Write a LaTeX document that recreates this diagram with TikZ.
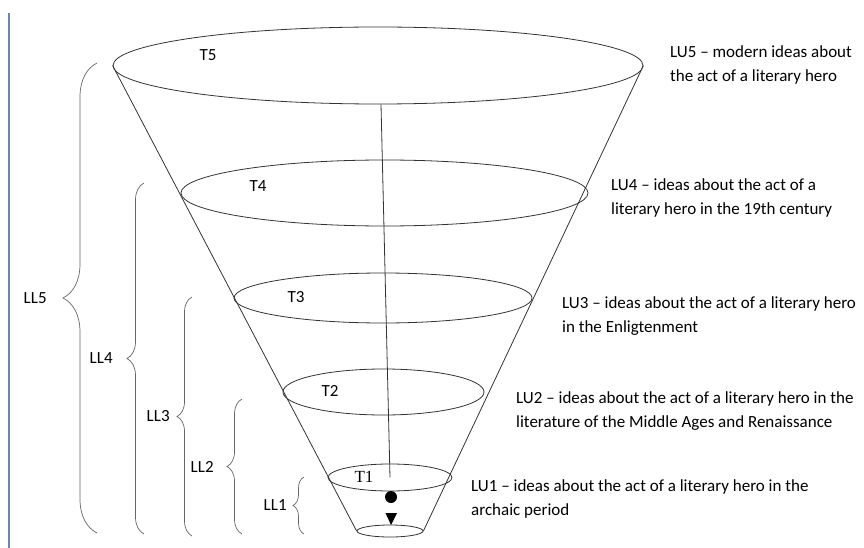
\documentclass[tikz,border=0pt]{standalone}
\usepackage{fontspec}
\setmainfont{Carlito}
\newfontfamily\serifT{Liberation Serif}
\usepackage{tikz}
\usetikzlibrary{positioning,shapes.geometric,decorations.pathreplacing}
\definecolor{bargray}{RGB}{112,132,168}
\definecolor{bracegray}{gray}{0.4}
\definecolor{conegray}{gray}{0.2}

\begin{document}
\begin{tikzpicture}[x=1pt,y=-1pt]
    \tikzstyle{every node}=[font=\fontsize{17}{24}\selectfont,inner sep=0pt]
    \tikzstyle{disc}=[draw=conegray,ellipse,line width=0.8pt]
    \tikzstyle{lbrace}=[draw=bracegray,line width=0.7pt,decorate]
    \tikzstyle{idea}=[anchor=west,align=left]

    \useasboundingbox (0,0) rectangle (864,548);

    % the page edge on the left
    \draw [bargray,line width=2pt] (9,13) -- (9,548);

    % the cone: one ellipse for each level
    \node [disc,minimum width=530pt,minimum height=77pt] (t5) at (378,65.5) {};
    \node [disc,minimum width=407pt,minimum height=66pt] (t4) at (384.5,193) {};
    \node [disc,minimum width=298pt,minimum height=50pt] (t3) at (383,298) {};
    \node [disc,minimum width=201pt,minimum height=46pt] (t2) at (383.5,392) {};
    \node [disc,minimum width=124pt,minimum height=27pt] (t1) at (390,477.5) {};
    \node [disc,minimum width=66pt,minimum height=12pt] (base) at (390,531) {};

    \draw [conegray,line width=0.8pt] (t5.west) -- (base.west);
    \draw [conegray,line width=0.8pt] (t5.east) -- (base.east);
    \draw [conegray,line width=0.8pt] ([xshift=3pt]t5.south) -- (t1.center);

    \node [circle,fill=black,minimum size=12pt] (dot) at (391,497) {};
    \fill (385.5,513) -- (397,513) -- (391,525) -- cycle;

    \node (lt5) at (208,55) {T5};
    \node (lt4) at (258,186) {T4};
    \node (lt3) at (296,297) {T3};
    \node (lt2) at (330,391) {T2};
    \node (lt1) at (364,477) {\serifT T1};

    % the braces on the left
    \draw [lbrace,decoration={brace,amplitude=34pt}] (97,533) -- (97,63)
        node [midway,left=50pt] (ll5) {LL5};
    \draw [lbrace,decoration={brace,amplitude=17pt}] (144,534) -- (144,183)
        node [midway,left=31pt] (ll4) {LL4};
    \draw [lbrace,decoration={brace,amplitude=15pt}] (192,536) -- (192,297)
        node [midway,left=22pt] (ll3) {LL3};
    \draw [lbrace,decoration={brace,amplitude=15pt}] (242,534) -- (242,399)
        node [midway,left=28pt] (ll2) {LL2};
    \draw [lbrace,decoration={brace,amplitude=11pt}] (304,534) -- (304,477)
        node [midway,left=17pt] (ll1) {LL1};

    % the texts on the right
    \node [idea] (lu5) at (670,64.5) {LU5 -- modern ideas about\\the act of a literary hero};
    \node [idea] (lu4) at (611,197.5) {LU4 -- ideas about the act of a\\literary hero in the 19th century};
    \node [idea] (lu3) at (562,316.5) {LU3 -- ideas about the act of a literary hero\\in the Enligtenment};
    \node [idea] (lu2) at (516,411) {LU2 -- ideas about the act of a literary hero in the\\literature of the Middle Ages and Renaissance};
    \node [idea] (lu1) at (471,499) {LU1 -- ideas about the act of a literary hero in the\\archaic period};
\end{tikzpicture}
\end{document}
